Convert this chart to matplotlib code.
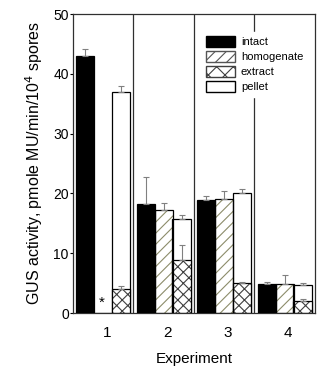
import numpy as np
import matplotlib.pyplot as plt
from matplotlib.patches import Patch

plt.rcParams['font.family'] = ['Liberation Sans', 'DejaVu Sans']
plt.rcParams['hatch.linewidth'] = 0.8

experiments = [1, 2, 3, 4]
intact = [43.0, 18.2, 18.9, 4.8]
homogenate = [0.0, 17.2, 19.1, 4.8]
extract = [4.0, 8.9, 5.0, 2.0]
pellet = [37.0, 15.7, 20.1, 4.7]

intact_err = [1.2, 4.5, 0.7, 0.4]
homogenate_err = [0.0, 1.2, 1.3, 1.6]
extract_err = [0.5, 2.5, 0.2, 0.3]
pellet_err = [1.0, 0.7, 0.6, 0.3]

x = np.array(experiments, dtype=float)
width = 0.3
off = 0.295

fig = plt.figure(figsize=(3.25, 3.92), dpi=100)
ax = fig.add_axes([0.2246, 0.2015, 0.969 - 0.2246, 0.964 - 0.2015])


def hatched_bar(xs, vals, hatch, hcolor):
    # hatch drawn in its own colour, outline drawn on top in black
    ax.bar(xs, vals, width, color='white', hatch=hatch, edgecolor=hcolor,
           linewidth=0, zorder=2)
    ax.bar(xs, vals, width, fill=False, edgecolor='black', linewidth=0.9,
           zorder=3)


def up_err(xs, vals, errs):
    errs = np.array(errs)
    ax.errorbar(xs, vals, yerr=[np.zeros_like(errs), errs], fmt='none',
                ecolor='#808080', elinewidth=0.8, capsize=2, capthick=0.8,
                zorder=4)


ax.bar(x - off, intact, width, color='black', edgecolor='black',
       linewidth=0.9, zorder=3)
hatched_bar(x, homogenate, '///', '#8c8c6a')
ax.bar(x + off, pellet, width, color='white', edgecolor='black',
       linewidth=0.9, zorder=2)
hatched_bar(x + off, extract, 'xxx', '#404040')

up_err(x - off, intact, intact_err)
up_err(x[1:], homogenate[1:], homogenate_err[1:])
up_err(x + off, pellet, pellet_err)
up_err(x + off, extract, extract_err)

# no homogenate value for experiment 1
ax.text(x[0] - 0.02, 0.6, '*', ha='center', va='bottom', fontsize=11)

for sep in [1.5, 2.5, 3.5]:
    ax.axvline(sep, color='#303030', linewidth=0.9, zorder=1)

ax.set_xlim(0.5, 4.5)
ax.set_ylim(0, 50)
ax.set_xticks(x + 0.06)
ax.set_xticklabels([str(e) for e in experiments], fontsize=11)
ax.tick_params(axis='x', length=0, pad=9)
ax.set_yticks([0, 10, 20, 30, 40, 50])
ax.tick_params(axis='y', length=2, pad=1, labelsize=10)
for s in ax.spines.values():
    s.set_linewidth(0.9)
    s.set_color('#303030')

ax.set_xlabel('Experiment', fontsize=11, labelpad=9)
ax.set_ylabel('GUS activity, pmole MU/min/10$^4$ spores', fontsize=11.5,
              labelpad=6)

handles = [
    Patch(facecolor='black', edgecolor='black', label='intact'),
    Patch(facecolor='white', edgecolor='#555555', hatch='///',
          label='homogenate'),
    Patch(facecolor='white', edgecolor='#404040', hatch='xx',
          label='extract'),
    Patch(facecolor='white', edgecolor='black', label='pellet'),
]
leg = ax.legend(handles=handles, loc='upper left',
                bbox_to_anchor=(0.51, 0.96), frameon=True, fontsize=8,
                handlelength=2.6, handleheight=1.1, handletextpad=0.5,
                labelspacing=0.35, borderpad=0.4, fancybox=False)
leg.get_frame().set_edgecolor('white')
leg.get_frame().set_facecolor('white')
leg.get_frame().set_alpha(1)
leg.set_zorder(5)

plt.savefig('out.png', dpi=100)
